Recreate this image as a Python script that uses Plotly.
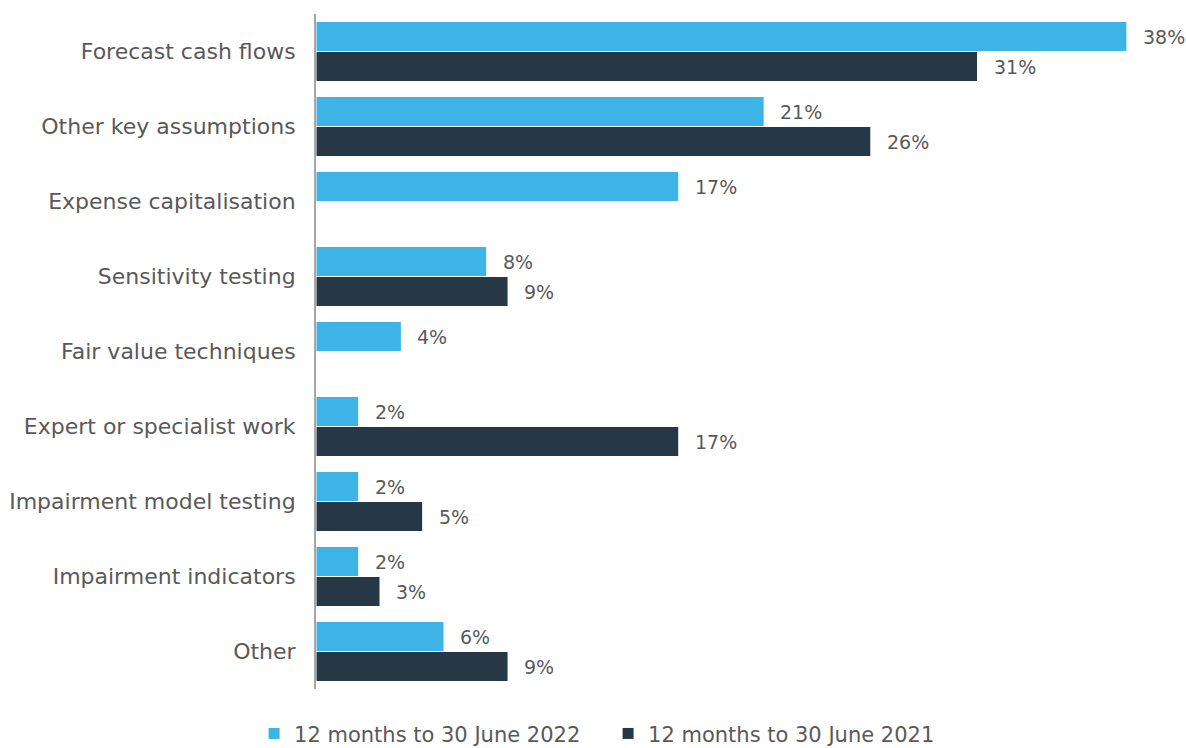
import plotly.graph_objects as go

categories = ["Forecast cash flows", "Other key assumptions", "Expense capitalisation",
              "Sensitivity testing", "Fair value techniques", "Expert or specialist work",
              "Impairment model testing", "Impairment indicators", "Other"]
values_2022 = [38, 21, 17, 8, 4, 2, 2, 2, 6]
values_2021 = [31, 26, None, 9, None, 17, 5, 3, 9]
series_names = ["12 months to 30 June 2022", "12 months to 30 June 2021"]

FONT = "DejaVu Sans"
TXT = "#595959"

fig = go.Figure()
fig.add_trace(go.Bar(
    y=categories, x=values_2022, name=series_names[0], orientation="h",
    marker=dict(color="#3DB4E5", line=dict(color="#FFFFFF", width=1)),
    cliponaxis=False,
))
fig.add_trace(go.Bar(
    y=categories, x=values_2021, name=series_names[1], orientation="h",
    marker=dict(color="#263746", line=dict(color="#FFFFFF", width=1)),
    cliponaxis=False,
))

# value labels placed beside each bar end
for vals, off in ((values_2022, -0.2), (values_2021, 0.2)):
    for i, (c, v) in enumerate(zip(categories, vals)):
        if v is None:
            continue
        fig.add_annotation(x=v, y=i + off, xref="x", yref="y", text=f"{v}%",
                           showarrow=False, xanchor="left", xshift=14,
                           font=dict(family=FONT, size=19, color=TXT))

fig.update_layout(
    width=1186, height=748,
    margin=dict(l=316, r=10, t=14, b=59, autoexpand=False),
    barmode="group", bargap=0.2, bargroupgap=0,
    plot_bgcolor="white", paper_bgcolor="white",
    font=dict(family=FONT, size=21, color=TXT),
    showlegend=True,
    legend=dict(orientation="h", xref="paper", x=-0.072, xanchor="left",
                y=-0.036, yanchor="top", font=dict(family=FONT, size=21, color=TXT),
                traceorder="normal", entrywidth=309),
    xaxis=dict(type="linear", autorange=False, range=[0, 40.3], showgrid=False,
               showticklabels=False, zeroline=False, showline=False, ticks=""),
    yaxis=dict(type="category", autorange="reversed", showgrid=False, showline=True,
               linecolor="#A6A6A6", linewidth=2, ticks="", ticksuffix="  ",
               tickfont=dict(family=FONT, size=22, color=TXT)),
)

fig.write_html("out.html")
